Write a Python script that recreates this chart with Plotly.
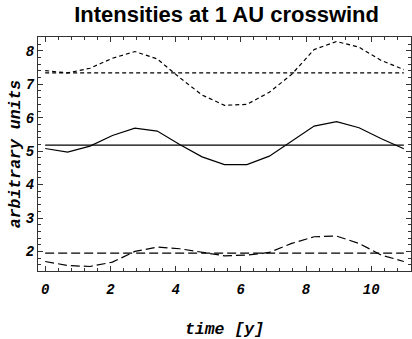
import plotly.graph_objects as go

# time axis (years)
time = [0.0, 0.6875, 1.375, 2.0625, 2.75, 3.4375, 4.125, 4.8125, 5.5,
        6.1875, 6.875, 7.5625, 8.25, 8.9375, 9.625, 10.3125, 11.0]

# series values (arbitrary units)
upper = [7.41, 7.34, 7.48, 7.78, 7.98, 7.76, 7.20, 6.68, 6.37,
         6.40, 6.76, 7.30, 8.04, 8.28, 8.11, 7.71, 7.44]
middle = [5.08, 4.97, 5.15, 5.47, 5.69, 5.60, 5.20, 4.83, 4.60,
          4.60, 4.85, 5.30, 5.75, 5.88, 5.70, 5.37, 5.07]
lower = [1.70, 1.58, 1.55, 1.68, 2.00, 2.13, 2.08, 1.97, 1.87,
         1.89, 1.97, 2.24, 2.44, 2.46, 2.24, 1.89, 1.70]

# mean levels
upper_mean = 7.34
middle_mean = 5.18
lower_mean = 1.95

mean_x = [time[0], time[-1]]

title_text = "Intensities at 1 AU crosswind"
x_title = "time [y]"
y_title = "arbitrary units"

fig = go.Figure()

styles = [
    (upper, upper_mean, "4px,3px"),
    (middle, middle_mean, "solid"),
    (lower, lower_mean, "9px,4px"),
]
for vals, mean, dash in styles:
    fig.add_trace(go.Scatter(x=time, y=vals, mode="lines",
                             line=dict(color="black", width=1.2, dash=dash),
                             showlegend=False, hoverinfo="skip"))
    fig.add_trace(go.Scatter(x=mean_x, y=[mean, mean], mode="lines",
                             line=dict(color="black", width=1.2, dash=dash),
                             showlegend=False, hoverinfo="skip"))

tickfont = dict(family="Liberation Mono", size=14, color="black",
                weight="bold", style="italic")
titlefont = dict(family="Liberation Mono", size=16.5, color="black",
                 weight="bold", style="italic")

fig.update_layout(
    width=412, height=339,
    margin=dict(l=38, r=1, t=37, b=68),
    paper_bgcolor="white", plot_bgcolor="white",
    title=dict(text=title_text, x=0.55, xanchor="center", y=0.958, yanchor="middle",
               font=dict(family="Liberation Sans", size=22, color="black", weight="bold")),
)

fig.update_xaxes(
    range=[-0.22, 11.22], showgrid=False, zeroline=False,
    showline=True, linecolor="#333", linewidth=1, mirror="allticks",
    ticks="inside", ticklen=5, tickcolor="#333", tick0=0, dtick=2,
    minor=dict(ticks="inside", ticklen=3, dtick=0.4, tick0=0, tickcolor="#333", showgrid=False),
    tickfont=tickfont, ticklabelstandoff=5,
    title=dict(text=x_title, font=titlefont, standoff=26),
)
fig.update_yaxes(
    range=[1.415, 8.415], showgrid=False, zeroline=False,
    showline=True, linecolor="#333", linewidth=1, mirror="allticks",
    ticks="inside", ticklen=5, tickcolor="#333", tick0=0, dtick=1,
    minor=dict(ticks="inside", ticklen=3, dtick=0.2, tick0=0, tickcolor="#333", showgrid=False),
    tickfont=tickfont,
    title=dict(text=y_title, font=titlefont, standoff=1),
)

fig.write_html("out.html")
